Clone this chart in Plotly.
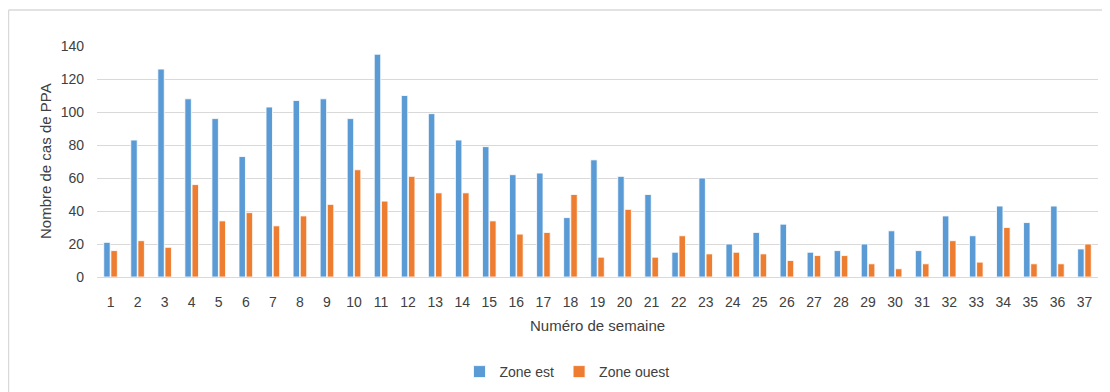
import plotly.graph_objects as go

weeks = [str(i) for i in range(1, 38)]
zone_est = [21, 83, 126, 108, 96, 73, 103, 107, 108, 96,
            135, 110, 99, 83, 79, 62, 63, 36, 71, 61,
            50, 15, 60, 20, 27, 32, 15, 16, 20, 28,
            16, 37, 25, 43, 33, 43, 17]
zone_ouest = [16, 22, 18, 56, 34, 39, 31, 37, 44, 65,
              46, 61, 51, 51, 34, 26, 27, 50, 12, 41,
              12, 25, 14, 15, 14, 10, 13, 13, 8, 5,
              8, 22, 9, 30, 8, 8, 20]
y_ticks = [0, 20, 40, 60, 80, 100, 120, 140]

FONT = "Liberation Sans"
TXT = "#404040"

fig = go.Figure()
fig.add_trace(go.Bar(name="Zone est", x=weeks, y=zone_est,
                     marker=dict(color="#5B9BD5", line=dict(color="white", width=0.8))))
fig.add_trace(go.Bar(name="Zone ouest", x=weeks, y=zone_ouest,
                     marker=dict(color="#ED7D31", line=dict(color="white", width=0.8))))

OFF = 8  # page body margin
W, H = 1110 - OFF, 392 - OFF
# plot area in reference (window) pixel coords
PX0, PX1, PY0, PY1 = 97, 1098, 46, 277
L, R = PX0 - OFF, W - (PX1 - OFF)
T, B = PY0 - OFF, H - (PY1 - OFF)
pw, ph = W - L - R, H - T - B

def px_x(x):
    return (x - PX0) / (PX1 - PX0)

def px_y(y):
    return (PY1 - y) / (PY1 - PY0)

fig.update_layout(
    width=W, height=H,
    margin=dict(l=L, r=R, t=T, b=B, autoexpand=False),
    paper_bgcolor="white", plot_bgcolor="white",
    barmode="group", bargap=0.47, bargroupgap=0.1,
    font=dict(family=FONT, size=14, color=TXT),
    showlegend=True,
    legend=dict(orientation="h", xref="container", yref="container",
                x=(567 - OFF) / W, y=(H - (372 - OFF)) / H, xanchor="center", yanchor="middle",
                font=dict(family=FONT, size=14, color=TXT), itemwidth=30, traceorder="normal",
                bgcolor="rgba(0,0,0,0)"),
    xaxis=dict(type="category", showgrid=False, showline=True, linecolor="#D9D9D9", linewidth=1,
               ticks="", ticklabelstandoff=12, tickfont=dict(size=14, color=TXT)),
    yaxis=dict(range=[0, 140], tickvals=y_ticks, showgrid=True, gridcolor="#D9D9D9", gridwidth=1,
               zeroline=False, showline=False, ticks="", ticklabelstandoff=12,
               tickfont=dict(size=14, color=TXT)),
    annotations=[
        dict(text="Numéro de semaine", xref="paper", yref="paper", x=px_x(597), y=px_y(325),
             xanchor="center", yanchor="middle", showarrow=False, font=dict(size=15, color=TXT)),
        dict(text="Nombre de cas de PPA", xref="paper", yref="paper", x=px_x(45), y=px_y(161),
             xanchor="center", yanchor="middle", textangle=-90, showarrow=False,
             font=dict(size=15, color=TXT)),
    ],
    shapes=[
        dict(type="line", xref="paper", yref="paper", x0=px_x(8.5), x1=px_x(1112),
             y0=px_y(10), y1=px_y(10), line=dict(color="#D9D9D9", width=1.5)),
        dict(type="line", xref="paper", yref="paper", x0=px_x(8.5), x1=px_x(8.5),
             y0=px_y(10), y1=px_y(395), line=dict(color="#D9D9D9", width=1.5)),
    ],
)

fig.write_html("out.html")
